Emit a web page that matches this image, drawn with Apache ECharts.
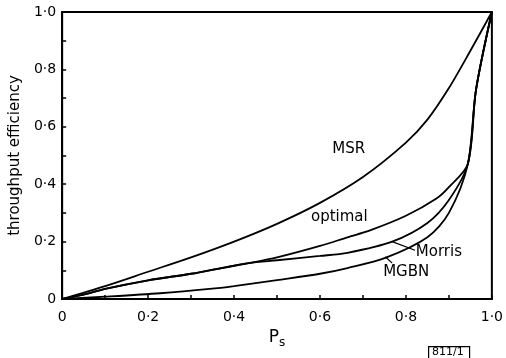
<!DOCTYPE html>
<html>
<head>
<meta charset="utf-8">
<script src="https://cdn.jsdelivr.net/npm/echarts@6/dist/echarts.min.js"></script>
<style>html,body{margin:0;padding:0;background:#fff;}#c{width:506px;height:358px;}</style>
</head>
<body>
<div id="c"></div>
<script>
// Probability of success Ps (x) and throughput efficiency (y)
const msrX     = [0, 0.1, 0.2, 0.3, 0.4, 0.5, 0.6, 0.7, 0.8, 0.85, 0.9, 0.95, 1.0];
const msrY     = [0, 0.045, 0.095, 0.145, 0.2, 0.262, 0.335, 0.425, 0.545, 0.625, 0.735, 0.865, 1.0];
const optimalX = [0, 0.05, 0.1, 0.2, 0.3, 0.343, 0.434, 0.5, 0.6, 0.664, 0.718, 0.8, 0.871, 0.9, 0.944, 0.963, 1.0];
const optimalY = [0, 0.015, 0.035, 0.065, 0.088, 0.1, 0.125, 0.145, 0.185, 0.215, 0.24, 0.29, 0.35, 0.39, 0.47, 0.728, 1.0];
const morrisX  = [0, 0.05, 0.1, 0.2, 0.3, 0.343, 0.434, 0.5, 0.6, 0.664, 0.768, 0.85, 0.9, 0.944, 0.963, 1.0];
const morrisY  = [0, 0.015, 0.035, 0.065, 0.088, 0.1, 0.125, 0.135, 0.15, 0.161, 0.2, 0.265, 0.345, 0.47, 0.728, 1.0];
const mgbnX    = [0, 0.1, 0.228, 0.343, 0.4, 0.5, 0.6, 0.664, 0.752, 0.85, 0.9, 0.944, 0.963, 1.0];
const mgbnY    = [0, 0.008, 0.02, 0.035, 0.045, 0.066, 0.088, 0.108, 0.143, 0.215, 0.3, 0.47, 0.728, 1.0];
const xTicks = ['0', '0·2', '0·4', '0·6', '0·8', '1·0'];
const yTicks = ['0', '0·2', '0·4', '0·6', '0·8', '1·0'];

const pairs = (xs, ys) => xs.map((x, i) => [x, ys[i]]);
const FONT = 'DejaVu Sans';
const lineStyle = { color: '#000', width: 1.8 };
function tickFmt(labels) {
  return function (v) {
    const k = Math.round(v * 10);
    if (k % 2 !== 0) return '';
    return labels[k / 2];
  };
}
const lab = (t, pos) => ({ show: true, formatter: t, color: '#000', fontFamily: FONT, fontSize: 15, position: pos || 'inside', distance: 0 });

const chart = echarts.init(document.getElementById('c'), null, { renderer: 'canvas' });
chart.setOption({
  animation: false,
  backgroundColor: '#fff',
  grid: { left: 61, right: 10, top: 12, bottom: 59, show: true, borderColor: '#000', borderWidth: 2 },
  xAxis: {
    type: 'value', min: 0, max: 1, interval: 0.1,
    name: '{p|P}{s|s}', nameLocation: 'middle', nameGap: 26,
    nameTextStyle: { rich: { p: { fontFamily: FONT, fontSize: 17, color: '#000' }, s: { fontFamily: FONT, fontSize: 12, color: '#000', padding: [10, 0, 0, 0] } } },
    axisLine: { lineStyle: { color: '#000', width: 2 } },
    axisTick: { inside: true, length: 4, lineStyle: { color: '#000', width: 1.5 } },
    axisLabel: { formatter: tickFmt(xTicks), color: '#000', fontFamily: FONT, fontSize: 14, margin: 11, showMaxLabel: true },
    splitLine: { show: false }
  },
  yAxis: {
    type: 'value', min: 0, max: 1, interval: 0.1,
    name: 'throughput efficiency', nameLocation: 'middle', nameGap: 37,
    nameTextStyle: { fontFamily: FONT, fontSize: 15, color: '#000' },
    axisLine: { lineStyle: { color: '#000', width: 2 } },
    axisTick: { inside: true, length: 4, lineStyle: { color: '#000', width: 1.5 } },
    axisLabel: { formatter: tickFmt(yTicks), color: '#000', fontFamily: FONT, fontSize: 14, margin: 6 },
    splitLine: { show: false }
  },
  series: [
    {
      name: 'MSR', type: 'line', data: pairs(msrX, msrY), smooth: 0.3, showSymbol: false, lineStyle,
      markPoint: { symbolSize: 0, data: [{ coord: [0.667, 0.522], label: lab('MSR') }] }
    },
    {
      name: 'optimal', type: 'line', data: pairs(optimalX, optimalY), smooth: 0.3, showSymbol: false, lineStyle,
      markPoint: { symbolSize: 0, data: [{ coord: [0.645, 0.285], label: lab('optimal') }] }
    },
    {
      name: 'Morris', type: 'line', data: pairs(morrisX, morrisY), smooth: 0.3, showSymbol: false, lineStyle,
      markPoint: { symbolSize: 0, data: [{ coord: [0.823, 0.162], label: lab('Morris', 'right') }] },
      markLine: { silent: true, symbol: 'none', label: { show: false }, lineStyle: { color: '#000', width: 1.2, type: 'solid' },
        data: [[{ coord: [0.768, 0.2] }, { coord: [0.821, 0.17] }]] }
    },
    {
      name: 'MGBN', type: 'line', data: pairs(mgbnX, mgbnY), smooth: 0.3, showSymbol: false, lineStyle,
      markPoint: { symbolSize: 0, data: [{ coord: [0.747, 0.092], label: lab('MGBN', 'right') }] },
      markLine: { silent: true, symbol: 'none', label: { show: false }, lineStyle: { color: '#000', width: 1.2, type: 'solid' },
        data: [[{ coord: [0.752, 0.147] }, { coord: [0.768, 0.125] }]] }
    }
  ],
  graphic: [
    { type: 'rect', left: 428, top: 346, shape: { width: 41, height: 12 }, style: { fill: '#fff', stroke: '#000', lineWidth: 1.2 } },
    { type: 'text', left: 432, top: 347, style: { text: '811/1', fontFamily: FONT, fontSize: 11, fill: '#000' } }
  ]
});
</script>
</body>
</html>
